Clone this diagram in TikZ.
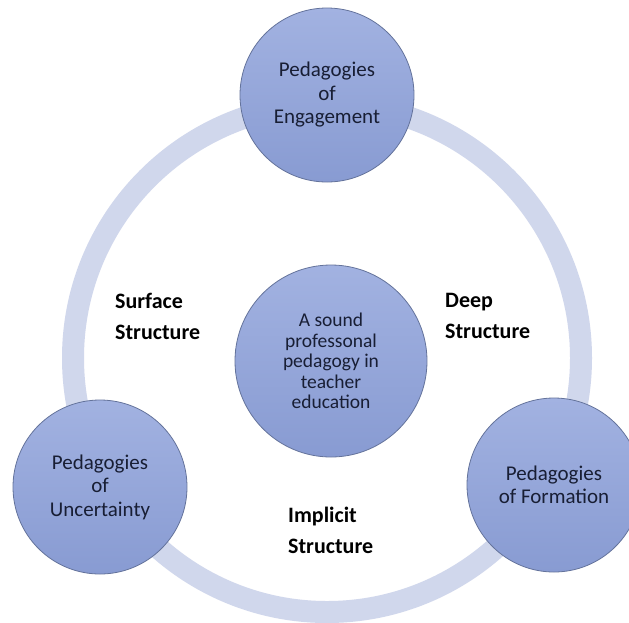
\documentclass[tikz,border=0pt]{standalone}
\usepackage{fontspec}
\setmainfont{Carlito}
\definecolor{ringc}{RGB}{208,215,236}
\definecolor{topc}{RGB}{162,178,225}
\definecolor{botc}{RGB}{136,155,210}
\definecolor{edgec}{RGB}{100,115,155}
\definecolor{txtc}{RGB}{24,30,52}
\tikzset{
  pcircle/.style={circle, draw=edgec, line width=0.8pt, top color=topc, bottom color=botc,
    minimum size=#1, inner sep=0pt, align=center, text=txtc,
    font=\fontsize{21}{23.5}\selectfont},
  lbl/.style={anchor=west, align=left, text=black, inner sep=0pt,
    font=\bfseries\fontsize{22}{31}\selectfont}
}
\begin{document}
\begin{tikzpicture}[x=1pt,y=-1pt]
\clip (0,0) rectangle (629,622);
\fill[white] (0,0) rectangle (629,622);
\coordinate (rc) at (327,358);
\draw[ringc, line width=22pt] (rc) circle[radius=254];
\node[pcircle=174pt] (eng) at (327,95) {Pedagogies\\of\\Engagement};
\node[pcircle=174pt] (unc) at (100,487) {Pedagogies\\of\\Uncertainty};
\node[pcircle=174pt] (form) at (554,485) {Pedagogies\\of Formation};
\node[pcircle=192pt, font=\fontsize{19.5}{20.5}\selectfont] (ctr) at (331,361)
  {A sound\\professonal\\pedagogy in\\teacher\\education};
\node[lbl] (surf) at (115,316) {Surface\\Structure};
\node[lbl] (deep) at (445,316) {Deep\\Structure};
\node[lbl] (impl) at (288,530) {Implicit\\Structure};
\end{tikzpicture}
\end{document}
